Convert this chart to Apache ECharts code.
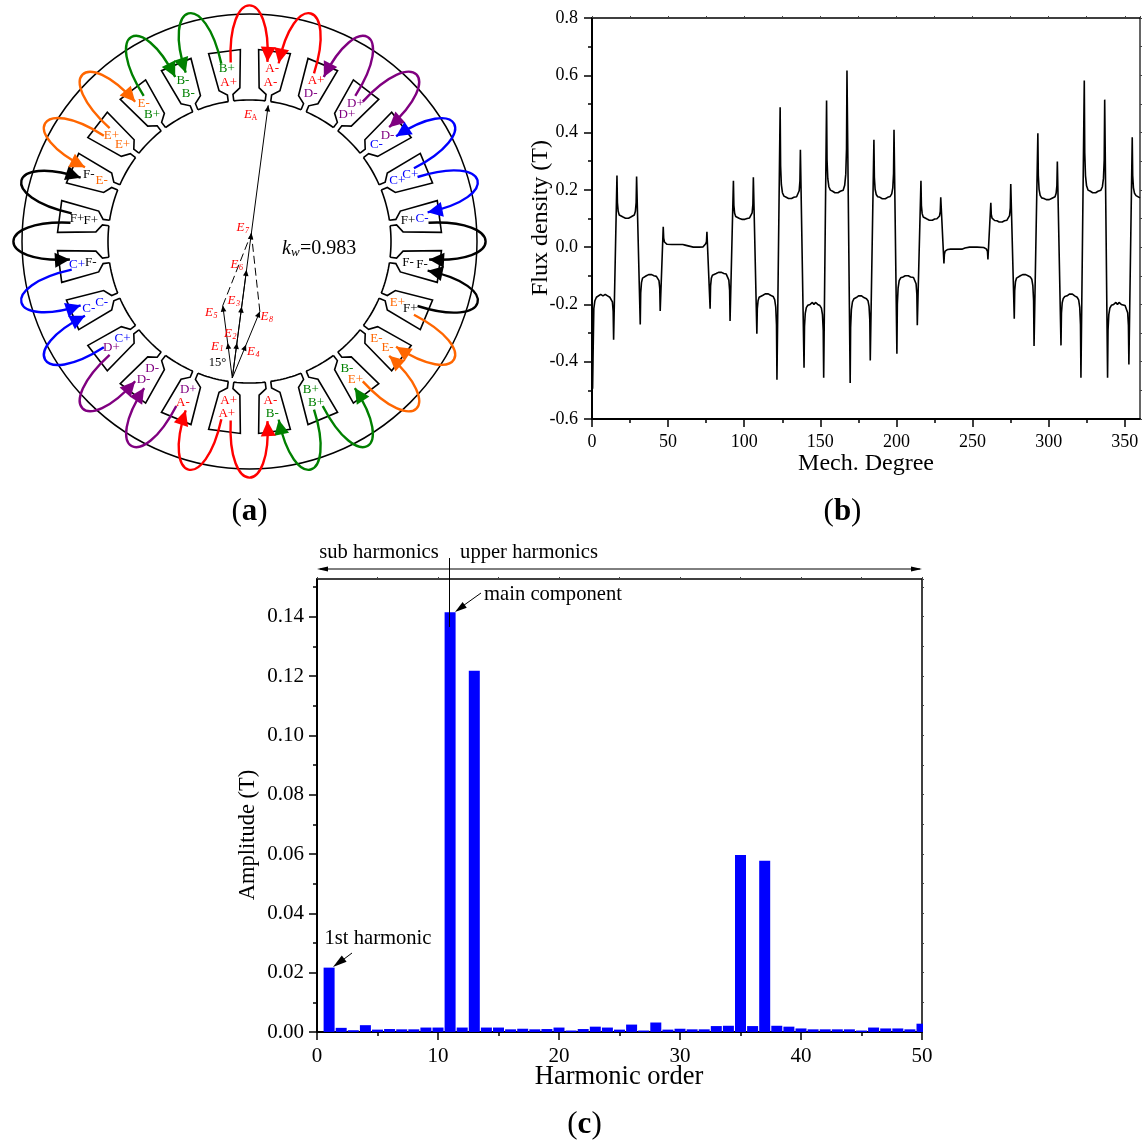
<!DOCTYPE html>
<html><head><meta charset="utf-8">
<style>html,body{margin:0;padding:0;background:#fff}#c{width:1145px;height:1142px}</style>
<script src="https://cdn.jsdelivr.net/npm/echarts@6/dist/echarts.min.js"></script>
</head><body><div id="c"></div>
<script>
// ---------- panel (a) data ----------
const slotOuter = ['A-','A+','D+','D-','C+','C-','F-','F+','E-','E+','B+','B-','A+','A-','D-','D+','C-','C+','F+','F-','E+','E-','B-','B+'];
const slotInner = ['A-','D-','D+','C-','C+','F+','F-','E+','E-','B-','B+','A-','A+','D+','D-','C+','C-','F-','F+','E-','E+','B+','B-','A+'];
const coilFrom  = [23,1,2,2,4,4,5,7,7,9,10,10,12,12,13,15,15,17,18,18,20,20,21,23];
const coilTo    = [0,0,1,3,3,5,6,6,8,8,9,11,11,13,14,14,16,16,17,19,19,21,22,22];
const coilPhase = ['A','A','D','D','C','C','F','F','E','E','B','B','A','A','D','D','C','C','F','F','E','E','B','B'];
const phasorNames  = ['1','2','4','5','3','8','6','7','A'];
const phasorAngles = [-7.5,7.5,22.5,-7.5,7.5,22.5,7.5,7.5,7.5];
const phasorLengths= [35.3,35.3,36,73,72,72,109,146,275];
// ---------- panel (b) data: [mech. degree, flux density] ----------
const fluxCurve = [
[0,-.09],[.4,-.494],[.7,-.38],[1.2,-.215],[1.9,-.187],[2.9,-.175],[4.2,-.17],[5.7,-.165],[7.2,-.17],[8.7,-.165],[10.2,-.17],[11.7,-.175],[12.7,-.178],[13.4,-.191],[13.9,-.224],[14.2,-.323],
[16.4,.25],[16.7,.156],[17.2,.125],[17.9,.112],[18.9,.107],[20.4,.105],[22,.101],[23,.105],[24,.101],[25.5,.105],[26.8,.107],[27.8,.112],[28.5,.125],[29,.156],[29.3,.247],
[31.7,-.27],[32,-.16],[32.5,-.124],[33.2,-.108],[34.2,-.102],[35.7,-.1],[37.2,-.096],[38.2,-.1],[39.2,-.096],[40.7,-.1],[42.3,-.102],[43.3,-.106],[44,-.117],[44.5,-.143],[44.8,-.223],
[46.8,.071],[47.1,.031],[47.6,.018],[48.3,.012],[49.3,.01],[52.5,.009],[57.5,.009],[59.6,.009],[60.2,.013],[61.2,.007],[62.3,.001],[66.5,0],[70.5,0],[73,.001],[74,.005],[74.7,.012],[75.2,.02],[75.5,.054],
[77.6,-.215],[77.9,-.135],[78.4,-.109],[79.1,-.098],[80.1,-.094],[81.6,-.092],[83.1,-.088],[84.1,-.092],[85.1,-.088],[86.6,-.092],[88.2,-.094],[89.2,-.1],[89.9,-.115],[90.4,-.15],[90.7,-.258],
[92.9,.232],[93.2,.146],[93.7,.118],[94.4,.107],[95.4,.102],[96.9,.1],[98.4,.097],[99.4,.1],[100.4,.097],[101.9,.1],[103.5,.102],[104.5,.107],[105.2,.12],[105.7,.15],[106,.244],
[108.3,-.302],[108.6,-.215],[109.1,-.187],[109.8,-.175],[110.8,-.17],[112.3,-.168],[113.8,-.163],[114.8,-.168],[115.8,-.163],[117.3,-.168],[119,-.172],[120,-.183],[120.7,-.209],[121.2,-.271],[121.5,-.463],
[123.6,.488],[123.9,.284],[124.4,.218],[125.1,.19],[126.1,.178],[127.6,.174],[129.1,.17],[130.1,.174],[131.1,.17],[132.6,.174],[134.4,.176],[135.4,.182],[136.1,.197],[136.6,.232],[136.9,.34],
[139.3,-.421],[139.6,-.277],[140.1,-.231],[140.8,-.211],[141.8,-.203],[143.3,-.2],[144.8,-.193],[145.8,-.2],[146.8,-.193],[148.3,-.2],[149.7,-.204],[150.7,-.213],[151.4,-.236],[151.9,-.29],[152.2,-.456],
[154.1,.512],[154.4,.306],[154.9,.239],[155.6,.211],[156.6,.199],[158.1,.195],[159.6,.19],[160.6,.195],[161.6,.19],[163.1,.195],[165,.199],[166,.216],[166.7,.254],[167.2,.343],[167.5,.617],
[169.6,-.474],[169.9,-.28],[170.4,-.218],[171.1,-.191],[172.1,-.18],[173.6,-.176],[175.1,-.17],[176.1,-.176],[177.1,-.17],[178.6,-.176],[180.3,-.18],[181.3,-.187],[182,-.207],[182.5,-.253],[182.8,-.396],
[185.2,.375],[185.5,.244],[186,.202],[186.7,.184],[187.7,.176],[189.2,.174],[190.7,.169],[191.7,.174],[192.7,.169],[194.2,.174],[195.9,.177],[196.9,.186],[197.6,.207],[198.1,.257],[198.4,.41],
[200.3,-.372],[200.6,-.198],[201.1,-.142],[201.8,-.117],[202.8,-.107],[204.3,-.104],[205.8,-.1],[206.8,-.104],[207.8,-.1],[209.3,-.104],[211.2,-.106],[212.2,-.112],[212.9,-.128],[213.4,-.163],[213.7,-.273],
[216.1,.232],[216.4,.145],[216.9,.117],[217.6,.105],[218.6,.1],[220.1,.098],[221.6,.094],[222.6,.098],[223.6,.094],[225.1,.098],[226.6,.099],[227.6,.102],[228.3,.109],[228.8,.125],[229.1,.174],
[231.2,-.057],[231.5,-.025],[232,-.014],[232.7,-.01],[233.7,-.008],[235.5,-.007],[243,-.007],[244,-.01],[245,-.003],[246,.002],[248,0],[253,0],[257.3,-.001],[258.3,-.002],[259,-.006],[259.8,-.015],[260.1,-.043],
[262,.155],[262.3,.114],[262.8,.101],[263.5,.095],[264.5,.093],[266,.092],[267.5,.088],[268.5,.092],[269.5,.088],[271,.092],[272.6,.094],[273.6,.098],[274.3,.11],[274.8,.137],[275.1,.22],
[277.4,-.25],[277.7,-.152],[278.2,-.121],[278.9,-.108],[279.9,-.102],[281.4,-.1],[282.9,-.096],[283.9,-.1],[284.9,-.096],[286.4,-.1],[287.9,-.104],[288.9,-.112],[289.6,-.134],[290.1,-.186],[290.4,-.345],
[292.9,.398],[293.2,.25],[293.7,.202],[294.4,.181],[295.4,.172],[296.9,.17],[298.4,.166],[299.4,.17],[300.4,.166],[301.9,.17],[303.2,.172],[304.2,.176],[304.9,.188],[305.4,.215],[305.7,.299],
[308.1,-.343],[308.4,-.231],[308.9,-.194],[309.6,-.179],[310.6,-.172],[312.1,-.17],[313.6,-.164],[314.6,-.17],[315.6,-.164],[317.1,-.17],[318.7,-.175],[319.7,-.184],[320.4,-.21],[320.9,-.27],[321.2,-.456],
[323.4,.582],[323.7,.33],[324.2,.249],[324.9,.214],[325.9,.199],[327.4,.195],[328.9,.19],[329.9,.195],[330.9,.19],[332.4,.195],[334.3,.199],[335.3,.211],[336,.24],[336.5,.307],[336.8,.515],
[338.7,-.456],[339,-.29],[339.5,-.236],[340.2,-.213],[341.2,-.203],[342.7,-.2],[344.2,-.193],[345.2,-.2],[346.2,-.193],[347.7,-.2],[350.2,-.204],[351.2,-.21],[351.9,-.229],[352.4,-.273],[352.7,-.41],
[354.9,.384],[355.2,.25],[355.7,.207],[356.4,.188],[357.4,.18],[358.6,.178],[360,.172]
];
// ---------- panel (c) data ----------
const harmonicOrders = [1,2,3,4,5,6,7,8,9,10,11,12,13,14,15,16,17,18,19,20,21,22,23,24,25,26,27,28,29,30,31,32,33,34,35,36,37,38,39,40,41,42,43,44,45,46,47,48,49,50];
const harmonicAmps = [.0217,.0014,.0006,.0023,.0008,.001,.0009,.0009,.0015,.0015,.1415,.0015,.1218,.0015,.0015,.0009,.0011,.0009,.001,.0015,.0005,.001,.0018,.0015,.0008,.0025,.0005,.0032,.0008,.0011,.0009,.0009,.002,.0021,.0597,.002,.0577,.0021,.0018,.0012,.0009,.0009,.0009,.0009,.0005,.0015,.0012,.0012,.0009,.0028];
const fluxXTicks = [0,50,100,150,200,250,300,350];
const fluxYTicks = [-0.6,-0.4,-0.2,0,0.2,0.4,0.6,0.8];
const ampXTicks = [0,10,20,30,40,50];
const ampYTicks = [0,0.02,0.04,0.06,0.08,0.1,0.12,0.14];

const FONT = 'Liberation Serif';
const phaseColor = {A:'#ff0000',B:'#008000',C:'#0000ff',D:'#800080',E:'#ff6600',F:'#000000'};
const W = 1145, H = 1142;
const cx = 249.5, cy = 241.5, Rout = 227.5, Rbore = 141.5;
const ox = 232.3, oy = 378;
const rad = d => d*Math.PI/180;
const slotAngle = i => 7.5 + 15*i;

function renderOverlay(params, api) {
  const C = (x,y) => api.coord([x,y]);
  const pol = (r,a) => C(cx + r*Math.sin(rad(a)), cy - r*Math.cos(rad(a)));
  const slotPt = (u,r,a) => C(cx + r*Math.sin(rad(a)) + u*Math.cos(rad(a)), cy - r*Math.cos(rad(a)) + u*Math.sin(rad(a)));
  const kids = [];
  const line = (pts,color,w,dash) => kids.push({type:'polyline',shape:{points:pts},style:{stroke:color,lineWidth:w,fill:'none',lineDash:dash||null,lineJoin:'miter'}});
  const tri = (tx,ty,dx,dy,len,hw,color) => {
    const n = Math.hypot(dx,dy); dx/=n; dy/=n;
    kids.push({type:'polygon',shape:{points:[C(tx,ty),C(tx-dx*len-dy*hw,ty-dy*len+dx*hw),C(tx-dx*len+dy*hw,ty-dy*len-dx*hw)]},style:{fill:color,stroke:null}});
  };
  const text = (s,x,y,size,color,opt) => { const p=C(x,y); kids.push({type:'text',style:Object.assign({text:s,x:p[0],y:p[1],fontFamily:FONT,fontSize:size,fill:color,align:'center',verticalAlign:'middle'},opt||{})}); };

  // stator
  const c0 = C(cx,cy);
  kids.push({type:'circle',shape:{cx:c0[0],cy:c0[1],r:Rout},style:{stroke:'#000',lineWidth:1.5,fill:'none'}});
  for (let i=0;i<24;i++){
    const a = slotAngle(i);
    line([[-2.8,141.5],[-2.8,148],[-10.5,153.5],[-16,191.5],[16,191.5],[10.5,153.5],[2.8,148],[2.8,141.5]].map(q=>slotPt(q[0],q[1],a)),'#000',1.6);
    const arc=[]; for(let k=0;k<=10;k++) arc.push(pol(Rbore, a+1.1+(15-2.2)*k/10));
    line(arc,'#000',1.6);
  }
  // coils
  coilFrom.forEach((f,i)=>{
    const t = coilTo[i], color = phaseColor[coilPhase[i]];
    let af = slotAngle(f), at = slotAngle(t);
    if (at-af>180) at-=360; if (af-at>180) at+=360;
    const d = Math.sign(at-af), mid=(af+at)/2, spread=5, Rc=256;
    const xy = (r,a)=>[cx+r*Math.sin(rad(a)),cy-r*Math.cos(rad(a))];
    const S=xy(180,af+d*1.5), T=xy(180.5,at-d*1.8), A=xy(Rc,mid-d*spread), B=xy(Rc,mid+d*spread);
    const ps=C(S[0],S[1]), pt=C(T[0],T[1]), pa=C(A[0],A[1]), pb=C(B[0],B[1]);
    kids.push({type:'bezierCurve',shape:{x1:ps[0],y1:ps[1],x2:pt[0],y2:pt[1],cpx1:pa[0],cpy1:pa[1],cpx2:pb[0],cpy2:pb[1]},style:{stroke:color,lineWidth:2.4,fill:'none'}});
    tri(T[0],T[1],T[0]-B[0],T[1]-B[1],15,7.5,color);
  });
  // slot labels
  const slotLabel=(s,r,a)=>{const x=cx+r*Math.sin(rad(a)),y=cy-r*Math.cos(rad(a)); text(s,x,y,13,phaseColor[s[0]]);};
  for(let i=0;i<24;i++){ slotLabel(slotOuter[i],174,slotAngle(i)); slotLabel(slotInner[i],160,slotAngle(i)); }
  // phasors
  const tip = i=>[ox+phasorLengths[i]*Math.sin(rad(phasorAngles[i])), oy-phasorLengths[i]*Math.cos(rad(phasorAngles[i]))];
  [[3],[6],[5],[8]].forEach(g=>{const q=tip(g[0]); line([C(ox,oy),C(q[0],q[1])],'#000',1);});
  const e5=tip(3), e7=tip(7), e8=tip(5);
  line([C(e5[0],e5[1]),C(e7[0],e7[1])],'#000',1,[8,4]);
  line([C(e8[0],e8[1]),C(e7[0],e7[1])],'#000',1,[8,4]);
  phasorNames.forEach((n,i)=>{const q=tip(i); tri(q[0],q[1],q[0]-ox,q[1]-oy,6,2.8,'#000');});
  const eLabelPos={'1':[217,346.5],'2':[230,334],'3':[233.5,301],'4':[253,352],'5':[211,313],'6':[236.5,265],'7':[242.5,228],'8':[266.5,317],'A':[250,115]};
  phasorNames.forEach(n=>{const p=eLabelPos[n];
    text('E',p[0]-2,p[1],13,'#ff0000',{fontStyle:'italic'});
    text(n,p[0]+4.5,p[1]+2.5,8,'#ff0000',{fontStyle:n==='A'?'normal':'italic'});
  });
  text('15\u00b0',217.5,363,12.5,'#000');
  text('k',282,249,20,'#000',{align:'left',fontStyle:'italic'});
  text('w',291,253,13,'#000',{align:'left',fontStyle:'italic'});
  text('=0.983',300,249,20,'#000',{align:'left'});
  // panel labels
  const boldRich={b:{fontFamily:FONT,fontWeight:'bold',fontSize:31,fill:'#000'}};
  [['a',249.5,512],['b',842.5,512],['c',584.5,1125]].forEach(l=>text('({b|'+l[0]+'})',l[1],l[2],31,'#000',{rich:boldRich}));
  // axis names
  text('Mech. Degree',866,464,24,'#000');
  text('Harmonic order',619,1077,26.5,'#000');
  const pf=C(541,218); kids.push({type:'text',rotation:Math.PI/2,x:pf[0],y:pf[1],style:{text:'Flux density (T)',x:0,y:0,fontFamily:FONT,fontSize:24,fill:'#000',align:'center',verticalAlign:'middle'}});
  const pa=C(248,835); kids.push({type:'text',rotation:Math.PI/2,x:pa[0],y:pa[1],style:{text:'Amplitude (T)',x:0,y:0,fontFamily:FONT,fontSize:22.5,fill:'#000',align:'center',verticalAlign:'middle'}});
  // panel (c) annotations
  text('sub harmonics',379,552.5,20.6,'#000');
  text('upper harmonics',529,552.5,20.6,'#000');
  line([C(320,569),C(920,569)],'#000',1);
  tri(317,569,-1,0,11,2.5,'#000'); tri(922,569,1,0,11,2.5,'#000');
  line([C(449.5,558),C(449.5,627)],'#000',1);
  text('main component',553,594.5,20.6,'#000');
  line([C(481,593),C(460,608)],'#000',1);
  tri(455,612,-26,19,12,3.5,'#000');
  text('1st harmonic',378,938.5,20.6,'#000');
  line([C(352,953),C(340,962)],'#000',1);
  tri(333,967,-12,9,14,4,'#000');
  // the last bar stops at the right spine of panel (c)
  kids.unshift({type:'rect',shape:{x:923,y:1010,width:8,height:23},style:{fill:'#fff'}});
  return {type:'group',children:kids};
}

const tickStyle = {color:'#000',width:1.5};
const noSplit = {show:false};
const font = s => ({fontFamily:FONT,fontSize:s,color:'#000'});
const option = {
  animation:false,
  backgroundColor:'#fff',
  grid:[
    {left:592,top:18,width:548,height:401},
    {left:317,top:579,width:605,height:453},
    {left:0,top:0,width:W,height:H}
  ],
  xAxis:[
    {gridIndex:0,type:'value',min:0,max:360,interval:50,position:'bottom',splitLine:noSplit,
      axisLine:{onZero:false,lineStyle:{color:'#000',width:2}},axisTick:{length:8,lineStyle:tickStyle,customValues:fluxXTicks},
      minorTick:{show:true,splitNumber:2,length:4,lineStyle:tickStyle},
      axisLabel:Object.assign(font(18),{margin:14,customValues:fluxXTicks,formatter:v=>String(v)})},
    {gridIndex:0,type:'value',min:0,max:360,interval:25,position:'top',splitLine:noSplit,
      axisLine:{onZero:false,lineStyle:{color:'#000',width:1.5}},axisTick:{length:2,lineStyle:{color:'#444',width:1}},axisLabel:{show:false}},
    {gridIndex:1,type:'value',min:0,max:50,interval:10,position:'bottom',splitLine:noSplit,
      axisLine:{onZero:false,lineStyle:{color:'#000',width:2}},axisTick:{length:8,lineStyle:tickStyle,customValues:ampXTicks},
      minorTick:{show:true,splitNumber:2,length:4,lineStyle:tickStyle},
      axisLabel:Object.assign(font(21),{margin:14,customValues:ampXTicks})},
    {gridIndex:1,type:'value',min:0,max:50,interval:5,position:'top',splitLine:noSplit,
      axisLine:{onZero:false,lineStyle:{color:'#000',width:1.5}},axisTick:{length:2,lineStyle:{color:'#444',width:1}},axisLabel:{show:false}},
    {gridIndex:2,type:'value',min:0,max:W,show:false}
  ],
  yAxis:[
    {gridIndex:0,type:'value',min:-0.6,max:0.8,interval:0.2,position:'left',splitLine:noSplit,
      axisLine:{onZero:false,lineStyle:{color:'#000',width:2}},axisTick:{length:8,lineStyle:tickStyle,customValues:fluxYTicks},
      minorTick:{show:true,splitNumber:2,length:4,lineStyle:tickStyle},
      axisLabel:Object.assign(font(18),{margin:14,customValues:fluxYTicks,formatter:v=>v.toFixed(1)})},
    {gridIndex:0,type:'value',min:-0.6,max:0.8,interval:0.1,position:'right',splitLine:noSplit,
      axisLine:{onZero:false,lineStyle:{color:'#333',width:1.5}},axisTick:{length:2,lineStyle:{color:'#444',width:1}},axisLabel:{show:false}},
    {gridIndex:1,type:'value',min:0,max:0.1527,interval:0.02,position:'left',splitLine:noSplit,
      axisLine:{onZero:false,lineStyle:{color:'#000',width:2}},axisTick:{length:8,lineStyle:tickStyle,customValues:ampYTicks},
      minorTick:{show:true,splitNumber:2,length:4,lineStyle:tickStyle},
      axisLabel:Object.assign(font(21),{margin:13,customValues:ampYTicks,formatter:v=>v.toFixed(2)})},
    {gridIndex:1,type:'value',min:0,max:0.1527,interval:0.01,position:'right',splitLine:noSplit,
      axisLine:{onZero:false,lineStyle:{color:'#000',width:1.5}},axisTick:{length:2,lineStyle:{color:'#444',width:1}},axisLabel:{show:false}},
    {gridIndex:2,type:'value',min:0,max:H,inverse:true,show:false}
  ],
  series:[
    {type:'line',xAxisIndex:0,yAxisIndex:0,data:fluxCurve,showSymbol:false,symbol:'none',sampling:null,
      lineStyle:{color:'#000',width:1.6},clip:true,z:3},
    {type:'bar',xAxisIndex:2,yAxisIndex:2,data:harmonicOrders.map((h,i)=>[h,harmonicAmps[i]]),barWidth:11,
      itemStyle:{color:'#0000ff'},clip:true,z:3},
    {type:'custom',xAxisIndex:4,yAxisIndex:4,data:[[0,0]],renderItem:renderOverlay,clip:false,silent:true,z:5}
  ]
};
echarts.init(document.getElementById('c'),null,{renderer:'canvas'}).setOption(option);
</script></body></html>
